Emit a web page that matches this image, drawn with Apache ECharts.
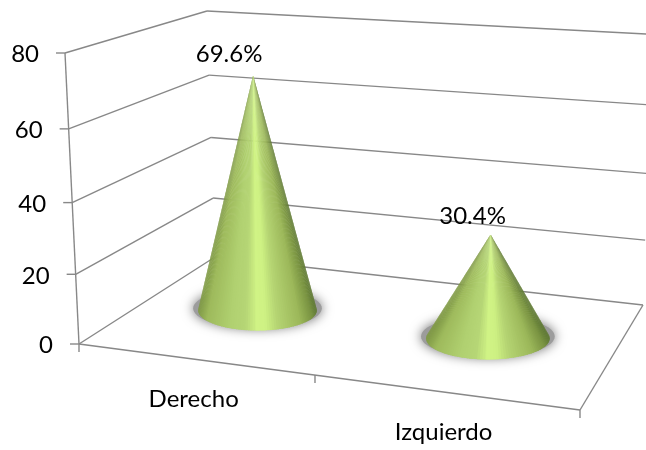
<!DOCTYPE html>
<html>
<head>
<meta charset="utf-8">
<style>html,body{margin:0;padding:0;background:#fff}#chart{width:646px;height:450px}</style>
<script src="https://cdn.jsdelivr.net/npm/echarts@6/dist/echarts.min.js"></script>
</head>
<body>
<div id="chart"></div>
<script>
// Chart data
const categories = ['Derecho', 'Izquierdo'];
const shares = [69.6, 30.4];
const shareLabels = ['69.6%', '30.4%'];
const valueTicks = [0, 20, 40, 60, 80];

// Flat grid rectangle that the category and value axes map onto
const GRID = { left: 79, top: 53, width: 501, height: 291 };

// Corners of the 3D box: floor plane and the plane at the axis maximum
const FLOOR = { fl: [79, 344], fr: [580, 410], bl: [215, 257], br: [643, 305] };
const CEIL = { fl: [65, 53], fr: [600, 98], bl: [207, 11], br: [652, 34.3] };

// Foreshortening along the width and height of the box
const WIDTH_PERSPECTIVE = 0.123;
const HEIGHT_PERSPECTIVE = 0.058;
const CONE_DEPTH = 0.535;
const LABEL_SHIFT = [[-24, -21], [-18, -18]];

const FONT = 'Lato, "Open Sans", sans-serif';
const LINE = '#888888';

const lerp = (a, b, k) => [a[0] + (b[0] - a[0]) * k, a[1] + (b[1] - a[1]) * k];
const toU = px => (px - GRID.left) / GRID.width;
const toT = py => (GRID.top + GRID.height - py) / GRID.height;
const warpU = u => u / (1 + WIDTH_PERSPECTIVE * (1 - u));
const warpT = t => t / (1 + HEIGHT_PERSPECTIVE * (1 - t));

function bilinear(plane, u, d) {
  return lerp(lerp(plane.fl, plane.fr, u), lerp(plane.bl, plane.br, u), d);
}
// Box coordinates: u across, d into the depth, t up, each 0..1
function project(u, d, t) {
  const wu = warpU(u);
  return lerp(bilinear(FLOOR, wu, d), bilinear(CEIL, wu, d), warpT(t));
}
function line(a, b) {
  return {
    type: 'line', z2: 1, silent: true,
    shape: { x1: a[0], y1: a[1], x2: b[0], y2: b[1] },
    style: { stroke: LINE, lineWidth: 1.4, fill: null }
  };
}
function text(str, x, y, align) {
  return {
    type: 'text', z2: 500, silent: true,
    style: { text: str, x: x, y: y, align: align, verticalAlign: 'middle',
      font: '24px ' + FONT, fill: '#000' }
  };
}

// Walls, floor, ticks and value labels
function renderGridline(params, api) {
  const v = api.value(0);
  const t = toT(api.coord([0, v])[1]);
  const a = project(0, 0, t), b = project(0, 1, t), c = project(1, 1, t);
  const children = [line(a, b), line(b, c),
    line([a[0] - 9, a[1]], a),
    text(String(v), a[0] - 26, a[1] + 1.5, 'right')];
  if (v === 0) {
    const fr = project(1, 0, 0), br = project(1, 1, 0);
    children.push(line(a, fr), line(fr, br), line(a, project(0, 0, 1)));
    [0, 0.5, 1].forEach(u => {
      const p = project(u, 0, 0);
      children.push(line(p, [p[0], p[1] + 8]));
    });
  }
  return { type: 'group', children: children };
}

// Shading across the cone, from -1 (left edge) to 1 (right edge)
const SHADE = [
  [-1, [128, 154, 70]], [-0.85, [158, 186, 92]], [-0.45, [176, 208, 112]],
  [-0.2, [182, 214, 118]], [0, [208, 243, 133]], [0.14, [206, 241, 131]],
  [0.35, [180, 211, 114]], [0.72, [156, 184, 90]], [0.92, [122, 148, 66]], [1, [96, 122, 52]]
];
function shade(s) {
  for (let i = 1; i < SHADE.length; i++) {
    if (s <= SHADE[i][0]) {
      const a = SHADE[i - 1], b = SHADE[i];
      const k = Math.max(0, (s - a[0]) / (b[0] - a[0]));
      const c = a[1].map((x, j) => Math.round(x + (b[1][j] - x) * k));
      return 'rgb(' + c.join(',') + ')';
    }
  }
  return 'rgb(' + SHADE[SHADE.length - 1][1].join(',') + ')';
}
function ellipsePoints(cx, cy, rx, ry) {
  const pts = [];
  for (let i = 0; i < 72; i++) {
    const a = i / 72 * Math.PI * 2;
    pts.push([cx + rx * Math.cos(a), cy + ry * Math.sin(a)]);
  }
  return pts;
}

// One cone per category, built from slices running from apex to base rim.
// Slices overlap and are painted from the rims inward so no seams show.
function renderCone(params, api) {
  const i = api.value(0), v = api.value(1);
  const pt = api.coord([i, v]);
  const u = toU(pt[0]), t = toT(pt[1]);
  const base = project(u, CONE_DEPTH, 0);
  const apex = project(u, CONE_DEPTH, t);
  const full = base[1] - project(u, CONE_DEPTH, 1)[1];
  const rx = full * 0.218, ry = rx * 0.34;
  const cx = base[0], cy = base[1];
  const children = [{
    type: 'polygon', z2: 2, silent: true,
    shape: { points: ellipsePoints(cx, cy - 2, rx + 5, ry) },
    style: { fill: '#9c9c9c', shadowBlur: 12, shadowColor: '#6e6e6e' }
  }];
  const h = cy - apex[1];
  const over = Math.asin(Math.min(0.5, ry / h));
  const N = 80;
  const step = (Math.PI + 2 * over) / N;
  for (let k = 0; k < N; k++) {
    const a0 = -over + step * k;
    const a1 = a0 + step;
    const mid = (a0 + a1) / 2;
    const s = -Math.cos(mid);
    // The half nearer the left rim overlaps rightward, the other half leftward
    const from = s < 0 ? a0 : Math.max(-over, a0 - step * 0.6);
    const to = s < 0 ? Math.min(Math.PI + over, a1 + step * 0.6) : a1;
    children.push({
      type: 'polygon', z2: 3 + Math.round((1 - Math.abs(s)) * 200), silent: true,
      shape: { points: [apex,
        [cx - rx * Math.cos(from), cy + ry * Math.sin(from)],
        [cx - rx * Math.cos(to), cy + ry * Math.sin(to)]] },
      style: { fill: shade(s) }
    });
  }
  const sh = LABEL_SHIFT[i];
  children.push(text(shareLabels[i], apex[0] + sh[0], apex[1] + sh[1], 'center'));
  const foot = project(u, 0, 0);
  children.push(text(categories[i], foot[0], foot[1] + 40, 'center'));
  return { type: 'group', children: children };
}

const chart = echarts.init(document.getElementById('chart'), null, { renderer: 'canvas' });
chart.setOption({
  animation: false,
  backgroundColor: '#ffffff',
  grid: { left: GRID.left, top: GRID.top, width: GRID.width, height: GRID.height },
  xAxis: { type: 'category', data: categories, show: false },
  yAxis: { type: 'value', min: 0, max: 80, interval: 20, show: false },
  series: [
    {
      type: 'custom', coordinateSystem: 'cartesian2d', clip: false, z: 1,
      encode: { y: 0 }, renderItem: renderGridline,
      data: valueTicks.map(v => [v])
    },
    {
      type: 'custom', coordinateSystem: 'cartesian2d', clip: false, z: 2,
      encode: { x: 0, y: 1 }, renderItem: renderCone,
      data: shares.map((v, i) => [i, v])
    }
  ]
});
</script>
</body>
</html>
